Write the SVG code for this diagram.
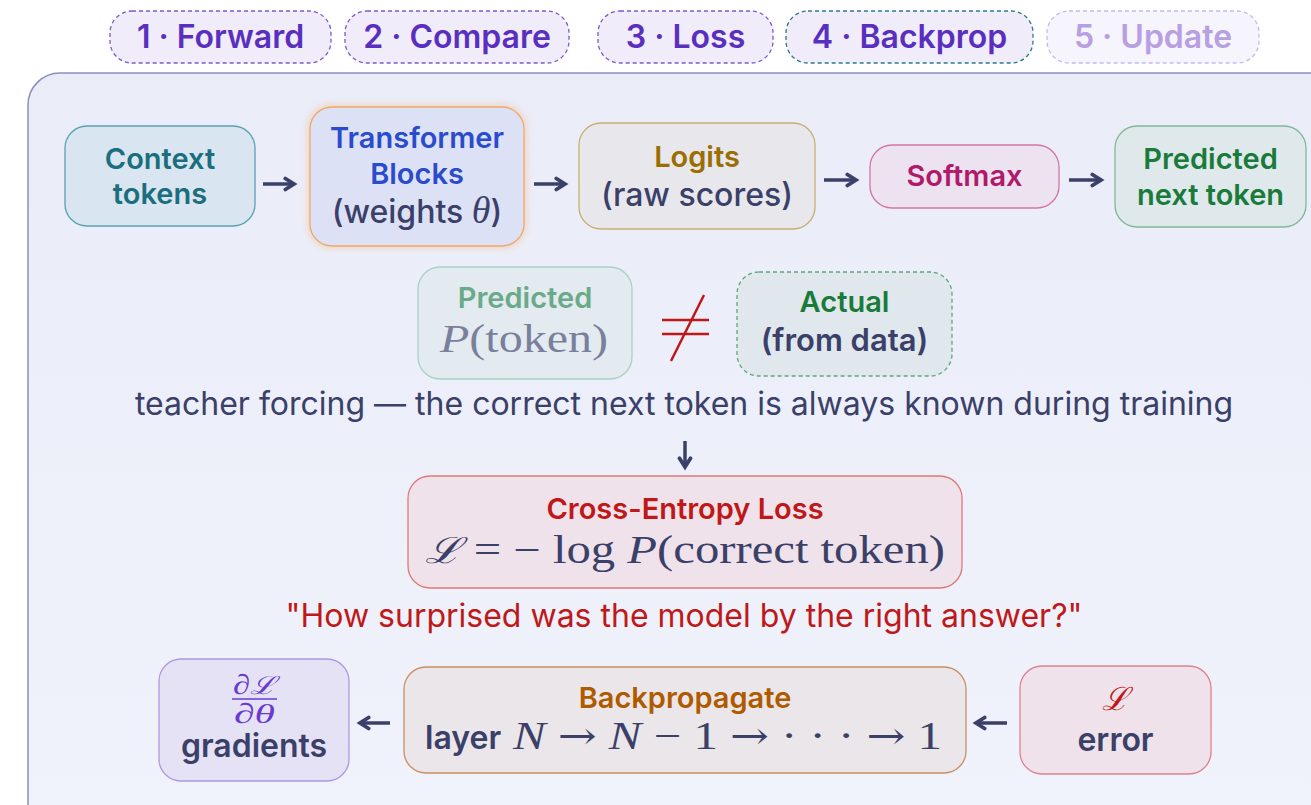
<svg xmlns="http://www.w3.org/2000/svg" width="1311" height="805" viewBox="0 0 1311 805">
<defs>
<linearGradient id="panel" x1="0" y1="0" x2="0" y2="1">
<stop offset="0" stop-color="#eaecf8"/><stop offset="1" stop-color="#f0f3fb"/>
</linearGradient>
<filter id="glow" x="-20%" y="-20%" width="140%" height="140%"><feGaussianBlur stdDeviation="3"/></filter>
<marker id="ah" viewBox="0 0 10 10" refX="7.5" refY="5" markerWidth="4.5" markerHeight="4.5" orient="auto-start-reverse" markerUnits="strokeWidth">
<path d="M2,1.5 L7.5,5 L2,8.5" fill="none" stroke="#3a4068" stroke-width="2.4" stroke-linecap="round" stroke-linejoin="miter"/>
</marker>
<style>
.pill{fill:#f0ecfa;stroke:#7a5ad0;stroke-width:1.3;stroke-dasharray:4 3}
.pt{font-family:Inter,"Noto Sans",sans-serif;font-weight:600;font-size:32px;fill:#5a2fbf;text-anchor:middle}
.node{stroke-width:1.3}
.b{font-family:Inter,"Noto Sans",sans-serif;font-weight:600;font-size:29px;text-anchor:middle}
.d{font-family:Inter,"Noto Sans",sans-serif;font-size:32px;fill:#3a4068;text-anchor:middle}
.m{font-family:"Liberation Serif","DejaVu Serif",serif;font-size:40px;fill:#3a4068}
.ar{font-family:"DejaVu Serif",serif;font-style:normal;font-weight:normal}
.conn{stroke:#3a4068;stroke-width:3.5;fill:none;marker-end:url(#ah)}
</style>
</defs>
<rect width="1311" height="805" fill="#ffffff"/>

<g id="steps">
<rect class="pill" x="110" y="11" width="221" height="52" rx="22"/>
<text class="pt" x="220.5" y="48">1 · Forward</text>
<rect class="pill" x="345" y="11" width="224" height="52" rx="22"/>
<text class="pt" x="457" y="48">2 · Compare</text>
<rect class="pill" x="598" y="11" width="175" height="52" rx="22"/>
<text class="pt" x="685.5" y="48">3 · Loss</text>
<rect class="pill" x="786" y="11" width="247" height="52" rx="22" style="stroke:#2a7a8a"/>
<text class="pt" x="909.5" y="48">4 · Backprop</text>
<rect class="pill" x="1047" y="11" width="212" height="52" rx="22" style="fill:#f6f4fc;stroke:#c8b8f0"/>
<text class="pt" x="1153" y="48" style="fill:#b6a0e2">5 · Update</text>
</g>

<g id="panel-bg">
<rect x="28" y="73" width="1320" height="780" rx="32" fill="url(#panel)" stroke="#8a90b8" stroke-width="1.5"/>
</g>

<g id="connectors">
<path class="conn" d="M263,184 H294"/>
<path class="conn" d="M534,184 H565"/>
<path class="conn" d="M824,180 H856"/>
<path class="conn" d="M1069,180 H1101"/>
<path class="conn" d="M685,441 V467"/>
<path class="conn" d="M390,723 H360"/>
<path class="conn" d="M1007,723 H976"/>
</g>

<g id="context">
<rect class="node" x="65" y="126" width="190" height="100" rx="22" fill="#d9e5f0" stroke="#5aa2b2"/>
<text class="b" x="160" y="169" fill="#1a6e7e">Context</text>
<text class="b" x="160" y="204" fill="#1a6e7e">tokens</text>
</g>

<g id="transformer">
<rect x="310" y="107" width="214" height="139" rx="22" fill="none" stroke="#f5b070" stroke-width="5" opacity="0.45" filter="url(#glow)"/>
<rect class="node" x="310" y="107" width="214" height="139" rx="22" fill="#dde1f6" stroke="#f0a868"/>
<text class="b" x="417" y="148" fill="#2a4ccc">Transformer</text>
<text class="b" x="417" y="184" fill="#2a4ccc">Blocks</text>
<text class="d" x="417" y="223" style="font-weight:500">(weights <tspan font-family="Liberation Serif,serif" font-style="italic" font-size="38">θ</tspan>)</text>
</g>

<g id="logits">
<rect class="node" x="579" y="123" width="236" height="106" rx="22" fill="#e8e7ec" stroke="#c8b070"/>
<text class="b" x="697" y="167" fill="#9a6e00">Logits</text>
<text class="d" x="697" y="206" style="font-weight:500">(raw scores)</text>
</g>

<g id="softmax">
<rect class="node" x="870" y="145" width="189" height="63" rx="22" fill="#ede2f0" stroke="#d474a4"/>
<text class="b" x="964.5" y="186" fill="#b01a6a">Softmax</text>
</g>

<g id="predicted-next">
<rect class="node" x="1115" y="126" width="191" height="101" rx="22" fill="#dfe9ec" stroke="#80b898"/>
<text class="b" x="1210.5" y="169" fill="#1a7a3a">Predicted</text>
<text class="b" x="1210.5" y="205" fill="#1a7a3a">next token</text>
</g>

<g id="predicted-p">
<rect class="node" x="418" y="267" width="214" height="112" rx="22" fill="#e3eaf0" stroke="#a8d2c2"/>
<text class="b" x="525" y="308" fill="#6aaa88">Predicted</text>
<text class="m" x="440" y="352" textLength="168" lengthAdjust="spacingAndGlyphs" style="fill:#7a809c"><tspan font-style="italic">P</tspan>(token)</text>
</g>

<g id="neq">
<path d="M662,320 H709 M662,334 H709 M704,295 L671,361" stroke="#c01818" stroke-width="2.5" fill="none"/>
</g>

<g id="actual">
<rect class="node" x="737" y="272" width="215" height="104" rx="22" fill="#e0e8ee" stroke="#5aa878" stroke-dasharray="4 3"/>
<text class="b" x="844.5" y="312" fill="#1a7a3a">Actual</text>
<text class="b" x="844.5" y="351" fill="#3a4068" style="font-size:31px">(from data)</text>
</g>

<g id="caption">
<text class="d" x="684" y="415">teacher forcing — the correct next token is always known during training</text>
</g>

<g id="loss">
<rect class="node" x="408" y="476" width="554" height="112" rx="22" fill="#efe2ea" stroke="#e07878"/>
<text class="b" x="685" y="519" fill="#c01818">Cross-Entropy Loss</text>
<text class="m" x="425" y="563" textLength="520" lengthAdjust="spacingAndGlyphs"><tspan font-family="DejaVu Serif,serif" font-style="italic" font-size="36">ℒ</tspan> = − log <tspan font-style="italic">P</tspan>(correct token)</text>
</g>

<g id="quote">
<text class="d" x="684" y="627" style="fill:#c01818">"How surprised was the model by the right answer?"</text>
</g>

<g id="gradients">
<rect class="node" x="159" y="659" width="190" height="122" rx="22" fill="#e6e2f6" stroke="#b098e0"/>
<text class="m" x="233" y="694" textLength="43" lengthAdjust="spacingAndGlyphs" style="fill:#6a3ad0;font-size:28px"><tspan font-style="italic">∂</tspan><tspan font-family="DejaVu Serif,serif" font-style="italic" font-size="25">ℒ</tspan></text>
<line x1="232" y1="699" x2="277" y2="699" stroke="#6a3ad0" stroke-width="1.6"/>
<text class="m" x="234" y="723" textLength="41" lengthAdjust="spacingAndGlyphs" style="fill:#6a3ad0;font-size:28px;font-style:italic">∂θ</text>
<text class="d" x="254" y="757" style="font-weight:600">gradients</text>
</g>

<g id="backprop">
<rect class="node" x="404" y="667" width="562" height="106" rx="22" fill="#ebe6ea" stroke="#c89060"/>
<text class="b" x="685" y="708" fill="#b05a00">Backpropagate</text>
<text class="d" x="425" y="749" style="font-weight:600;text-anchor:start">layer</text>
<text class="m" x="513" y="749" textLength="429" lengthAdjust="spacingAndGlyphs"><tspan font-style="italic">N</tspan> <tspan class="ar" font-size="38">→</tspan> <tspan font-style="italic">N</tspan> − 1 <tspan class="ar" font-size="38">→</tspan> · · · <tspan class="ar" font-size="38">→</tspan> 1</text>
</g>

<g id="error">
<rect class="node" x="1020" y="666" width="191" height="108" rx="22" fill="#efe2ea" stroke="#e08090"/>
<text x="1115.5" y="710" text-anchor="middle" font-family="DejaVu Serif,serif" font-style="italic" font-size="32" fill="#c01818">ℒ</text>
<text class="d" x="1115.5" y="751" style="font-weight:600">error</text>
</g>
</svg>
